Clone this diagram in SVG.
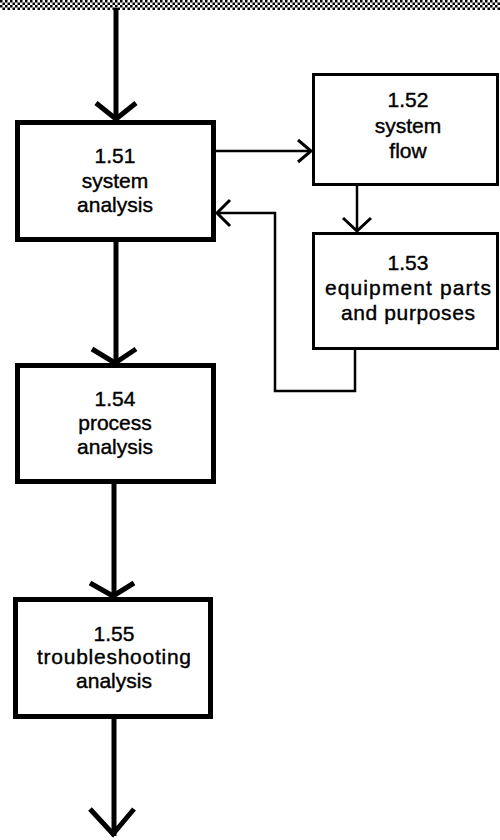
<svg xmlns="http://www.w3.org/2000/svg" width="500" height="840" viewBox="0 0 500 840">
<style>
.box{fill:#fff;stroke:#000;stroke-linejoin:miter}
.thick{stroke-width:5}
.thin{stroke-width:3}
.lbl{font-family:"Liberation Sans",Arial,sans-serif;font-size:21px;fill:#000;stroke:#000;stroke-width:0.4;text-anchor:middle}
.c{fill:none;stroke:#000;stroke-linejoin:miter;stroke-linecap:butt}
.cw{stroke-width:5}
.cn{stroke-width:2.5}
.ah{fill:none;stroke:#000;stroke-width:5;stroke-linejoin:miter}
.ahn{fill:none;stroke:#000;stroke-width:3;stroke-linejoin:miter}
</style>
<defs>
<pattern id="dots" width="5" height="5" patternUnits="userSpaceOnUse">
<rect x="0" y="0" width="2.5" height="2.5" fill="#000"/>
<rect x="2.5" y="2.5" width="2.5" height="2.5" fill="#000"/>
</pattern>
</defs>
<rect width="500" height="840" fill="#fff"/>
<rect x="0" y="0" width="500" height="10" fill="url(#dots)"/>
<g id="connectors">
<line class="c cw" x1="116" y1="8" x2="116" y2="121"/>
<polyline class="ah" points="96,103 116,119 136,103"/>
<line class="c cw" x1="116" y1="241" x2="116" y2="364"/>
<polyline class="ah" points="92,349 115,363 136,349"/>
<line class="c cw" x1="114" y1="483" x2="114" y2="597"/>
<polyline class="ah" points="90,583 113,596 134,583"/>
<line class="c cw" x1="114" y1="718" x2="114" y2="836"/>
<polyline class="ah" points="90,809 113,834 134,809"/>
<line class="c cn" x1="215" y1="151" x2="311" y2="151"/>
<polyline class="ahn" points="298,140 311,151 298,162"/>
<line class="c cn" x1="357" y1="185" x2="357" y2="231"/>
<polyline class="ahn" points="343,218 357,231 371,218"/>
<polyline class="c cn" points="355,349 355,391 275,391 275,213 218,213"/>
<polyline class="ahn" points="230,200 217,213 230,226"/>
</g>
<g id="n151">
<rect class="box thick" x="17.5" y="122.5" width="196" height="117"/>
<text class="lbl" x="115" y="163">1.51</text>
<text class="lbl" x="115" y="188">system</text>
<text class="lbl" x="115" y="212">analysis</text>
</g>
<g id="n152">
<rect class="box thin" x="313.5" y="74.5" width="184" height="110"/>
<text class="lbl" x="408" y="107">1.52</text>
<text class="lbl" x="408" y="133">system</text>
<text class="lbl" x="408" y="158">flow</text>
</g>
<g id="n153">
<rect class="box thin" x="313.5" y="233.5" width="184" height="115"/>
<text class="lbl" x="408" y="270">1.53</text>
<text class="lbl" x="408" y="295" textLength="166" lengthAdjust="spacing">equipment parts</text>
<text class="lbl" x="408" y="320" textLength="134" lengthAdjust="spacing">and purposes</text>
</g>
<g id="n154">
<rect class="box thick" x="17.5" y="365.5" width="196" height="116"/>
<text class="lbl" x="115" y="406">1.54</text>
<text class="lbl" x="115" y="430">process</text>
<text class="lbl" x="115" y="454">analysis</text>
</g>
<g id="n155">
<rect class="box thick" x="15.5" y="599.5" width="195" height="117"/>
<text class="lbl" x="114" y="641">1.55</text>
<text class="lbl" x="114" y="664" textLength="154" lengthAdjust="spacing">troubleshooting</text>
<text class="lbl" x="114" y="688">analysis</text>
</g>
</svg>
